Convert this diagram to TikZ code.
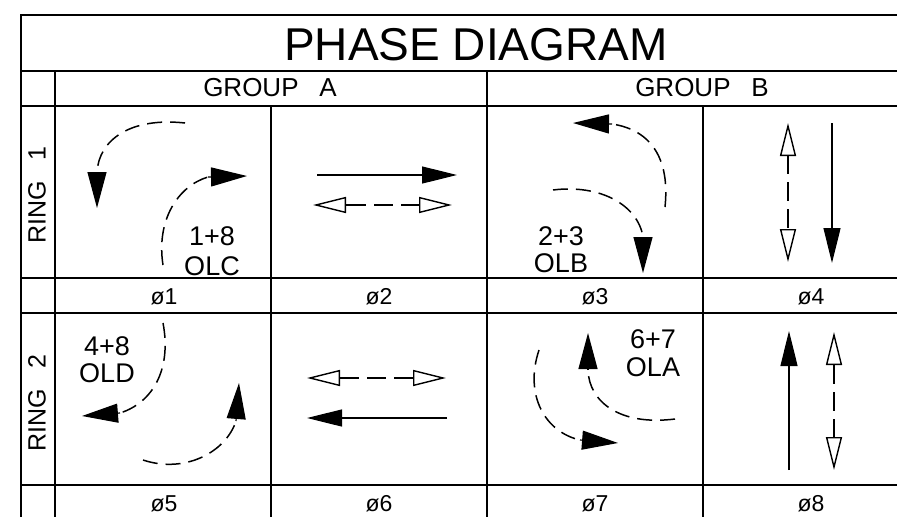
\documentclass[tikz,border=0pt]{standalone}
\usepackage{fontspec}
\setmainfont{Liberation Sans}
\usetikzlibrary{arrows.meta}
\begin{document}
\begin{tikzpicture}[x=1pt,y=-1pt,
  grid/.style={line width=1.7pt},
  arcd/.style={line width=1.5pt, dash pattern=on 15pt off 8pt},
  dline/.style={line width=1.5pt, dash pattern=on 19pt off 8pt},
  sline/.style={line width=1.5pt},
  ftip/.style={line width=1.2pt, -{Triangle[length=36pt,width=19pt]}},
  stip/.style={line width=1.2pt, -{Triangle[length=35pt,width=17pt]}},
  htip/.style={line width=1.4pt, -{Triangle[open,length=33pt,width=16pt]}},
  ttl/.style={font=\fontsize{46pt}{46pt}\selectfont, inner sep=0pt, anchor=base},
  grp/.style={font=\fontsize{26pt}{26pt}\selectfont, inner sep=0pt, anchor=base},
  ring/.style={font=\fontsize{25pt}{25pt}\selectfont, inner sep=0pt, rotate=90},
  phs/.style={font=\fontsize{23pt}{23pt}\selectfont, inner sep=0pt, anchor=base},
  ctxt/.style={font=\fontsize{27pt}{27pt}\selectfont, inner sep=0pt, anchor=base}
]
\useasboundingbox (0,0) rectangle (897,517);
% grid
\draw[grid] (897,15) -- (21,15) -- (21,517);
\foreach \y in {71,106,278,313,485} \draw[grid] (21,\y) -- (897,\y);
\draw[grid] (55,71) -- (55,517);
\draw[grid] (487,71) -- (487,517);
\draw[grid] (271,106) -- (271,517);
\draw[grid] (703,106) -- (703,517);
% headings
\node[ttl] (title) at (476,60) {PHASE DIAGRAM};
\node[grp] (ga) at (270,96) {GROUP\hspace{0.8em}A};
\node[grp] (gb) at (702,96) {GROUP\hspace{0.8em}B};
\node[ring] (r1) at (37,195) {RING\hspace{0.85em}1};
\node[ring] (r2) at (37,403) {RING\hspace{0.85em}2};
% phase labels
\node[phs] (p1) at (164,304) {ø1};
\node[phs] (p2) at (379,304) {ø2};
\node[phs] (p3) at (595,304) {ø3};
\node[phs] (p4) at (811,304) {ø4};
\node[phs] (p5) at (164,511) {ø5};
\node[phs] (p6) at (379,511) {ø6};
\node[phs] (p7) at (595,511) {ø7};
\node[phs] (p8) at (811,511) {ø8};
% cell texts
\node[ctxt] (t18) at (212,245) {1+8};
\node[ctxt] (olc) at (212,275) {OLC};
\node[ctxt] (t23) at (561,245) {2+3};
\node[ctxt] (olb) at (561,272) {OLB};
\node[ctxt] (t48) at (107,355) {4+8};
\node[ctxt] (old) at (107,382) {OLD};
\node[ctxt] (t67) at (653,348) {6+7};
\node[ctxt] (ola) at (653,376) {OLA};
% phase 1
\draw[arcd] (185,123) .. controls (130,117) and (99,140) .. (97,172);
\draw[ftip] (97,172) -- (97,208);
\draw[arcd] (163,265) .. controls (156,220) and (178,186) .. (208,177);
\draw[ftip] (208,177) -- (247,176);
% phase 2
\draw[sline] (317,175) -- (430,175);
\draw[stip] (420,175) -- (457,175);
\draw[dline] (347,205) -- (419,205);
\draw[htip] (347,205) -- (313,205);
\draw[htip] (419,205) -- (452,205);
% phase 3
\draw[arcd] (665,207) .. controls (670,160) and (652,130) .. (612,124);
\draw[ftip] (612,124) -- (573,123);
\draw[arcd] (553,190) .. controls (600,184) and (638,205) .. (643,237);
\draw[ftip] (643,237) -- (643,273);
% phase 4
\draw[dline] (788,155) -- (788,229);
\draw[htip] (788,155) -- (788,123);
\draw[htip] (788,229) -- (788,262);
\draw[sline] (832,123) -- (832,240);
\draw[stip] (832,228) -- (832,263);
% phase 5
\draw[arcd] (163,323) .. controls (172,370) and (152,403) .. (120,413);
\draw[ftip] (120,413) -- (82,416);
\draw[arcd] (143,460) .. controls (185,474) and (226,452) .. (236,421);
\draw[ftip] (236,421) -- (239,383);
% phase 6
\draw[dline] (340,378) -- (413,378);
\draw[htip] (340,378) -- (307,378);
\draw[htip] (413,378) -- (446,378);
\draw[sline] (447,418) -- (330,418);
\draw[stip] (342,418) -- (307,418);
% phase 7
\draw[arcd] (539,350) .. controls (524,395) and (545,432) .. (580,440);
\draw[ftip] (580,440) -- (618,443);
\draw[arcd] (675,419) .. controls (620,426) and (589,402) .. (588,370);
\draw[ftip] (588,370) -- (588,333);
% phase 8
\draw[sline] (789,470) -- (789,355);
\draw[stip] (789,366) -- (789,331);
\draw[dline] (834,365) -- (834,437);
\draw[htip] (834,365) -- (834,332);
\draw[htip] (834,437) -- (834,470);
\end{tikzpicture}
\end{document}
